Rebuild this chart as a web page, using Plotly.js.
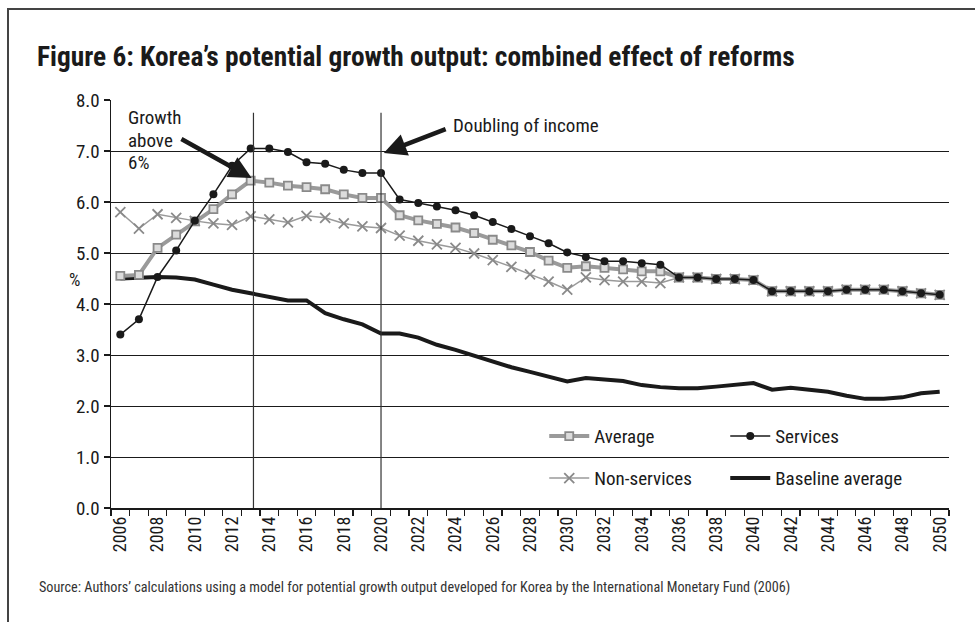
<!DOCTYPE html>
<html>
<head>
<meta charset="utf-8">
<script src="https://cdn.plot.ly/plotly-3.0.1.min.js"></script>
<style>
  html, body { margin: 0; padding: 0; background: #fff; overflow: hidden; }
  #frame { position: absolute; left: 7px; top: 8px; width: 1100px; height: 800px; border: 2px solid #444; box-sizing: border-box; }
  #chart { position: absolute; left: 0; top: 0; width: 975px; height: 622px; }
</style>
</head>
<body>
<div id="frame"></div>
<div id="chart"></div>
<script>
const years = [];
for (let y = 2006; y <= 2050; y++) years.push(y);

const tickYears = [2006,2008,2010,2012,2014,2016,2018,2020,2022,2024,2026,2028,2030,2032,2034,2036,2038,2040,2042,2044,2046,2048,2050];

const average = [4.55,4.57,5.10,5.36,5.62,5.86,6.15,6.42,6.38,6.32,6.29,6.25,6.15,6.08,6.08,
  5.74,5.64,5.57,5.50,5.39,5.26,5.15,5.02,4.85,4.71,4.74,4.71,4.68,4.64,4.64,
  4.52,4.52,4.49,4.49,4.47,4.25,4.25,4.25,4.25,4.28,4.28,4.28,4.25,4.21,4.18];

const services = [3.40,3.70,4.53,5.05,5.63,6.15,6.71,7.05,7.05,6.98,6.78,6.75,6.63,6.57,6.57,
  6.05,5.98,5.91,5.84,5.74,5.61,5.47,5.33,5.19,5.01,4.92,4.84,4.84,4.80,4.77,
  4.52,4.52,4.49,4.49,4.47,4.25,4.25,4.25,4.25,4.28,4.28,4.28,4.25,4.21,4.18];

const nonServices = [5.80,5.48,5.76,5.69,5.63,5.58,5.55,5.72,5.66,5.60,5.73,5.69,5.58,5.52,5.49,
  5.34,5.24,5.17,5.10,4.99,4.86,4.73,4.58,4.44,4.28,4.52,4.47,4.44,4.44,4.41,
  4.52,4.52,4.49,4.49,4.47,4.25,4.25,4.25,4.25,4.28,4.28,4.28,4.25,4.21,4.18];

const baseline = [4.50,4.52,4.53,4.52,4.48,4.38,4.28,4.21,4.14,4.07,4.07,3.82,3.70,3.60,3.42,
  3.42,3.34,3.20,3.10,2.98,2.87,2.76,2.67,2.57,2.48,2.55,2.52,2.49,2.41,2.37,
  2.35,2.35,2.38,2.42,2.45,2.32,2.36,2.32,2.28,2.20,2.14,2.14,2.17,2.25,2.28];

const seriesNames = ['Average','Services','Non-services','Baseline average'];
const markerLines = [2013.15, 2020];
const growthLines = ['Growth', 'above', '6%'];

const FONT = 'Roboto Condensed, Liberation Sans Narrow, DejaVu Sans Condensed, sans-serif';
const TXT = '#1a1a1a';

const traces = [
  {x: years, y: baseline, name: seriesNames[3], mode: 'lines', legend: 'legend2',
   line: {color: '#1a1a1a', width: 4}},
  {x: years, y: nonServices, name: seriesNames[2], mode: 'lines+markers', legend: 'legend2',
   line: {color: '#9a9a9a', width: 1.5},
   marker: {symbol: 'x-thin-open', size: 10, color: '#8a8a8a', line: {color: '#8a8a8a', width: 1.8}}},
  {x: years, y: average, name: seriesNames[0], mode: 'lines+markers', legend: 'legend',
   line: {color: '#9a9a9a', width: 4},
   marker: {symbol: 'square', size: 8, color: '#dcdcdc', line: {color: '#8a8a8a', width: 1.8}}},
  {x: years, y: services, name: seriesNames[1], mode: 'lines+markers', legend: 'legend',
   line: {color: '#1a1a1a', width: 1.5},
   marker: {symbol: 'circle', size: 8, color: '#1a1a1a'}}
];

const shapes = markerLines.map(v => ({
  type: 'line', xref: 'x', yref: 'y', x0: v, x1: v, y0: 0, y1: 7.75,
  line: {color: '#333', width: 1.2}
}));

const growthY = [0.956, 0.901, 0.847];
const annotations = growthLines.map((t, i) => ({
  text: t, xref: 'paper', yref: 'paper', x: 0.018, y: growthY[i],
  xanchor: 'left', yanchor: 'middle', align: 'left', showarrow: false,
  font: {family: FONT, size: 19, color: TXT}
})).concat([
  {text: '', xref: 'x', yref: 'y', x: 2013.05, y: 6.47, axref: 'x', ayref: 'y', ax: 2009.2, ay: 7.25,
   showarrow: true, arrowhead: 2, arrowsize: 1, arrowwidth: 4.5, arrowcolor: '#1a1a1a', standoff: 0},
  {text: 'Doubling of income', xref: 'x', yref: 'y', x: 2023.75, y: 7.5,
   xanchor: 'left', yanchor: 'middle', showarrow: false,
   font: {family: FONT, size: 19, color: TXT}},
  {text: '', xref: 'x', yref: 'y', x: 2020.15, y: 6.96, axref: 'x', ayref: 'y', ax: 2023.55, ay: 7.44,
   showarrow: true, arrowhead: 2, arrowsize: 1, arrowwidth: 4.5, arrowcolor: '#1a1a1a', standoff: 0},
  {text: '%', xref: 'paper', yref: 'paper', x: -0.043, y: 0.559, xanchor: 'center', yanchor: 'middle',
   showarrow: false, font: {family: FONT, size: 18, color: TXT}},
  {text: 'Source: Authors\u2019 calculations using a model for potential growth output developed for Korea by the International Monetary Fund (2006)',
   xref: 'paper', yref: 'paper', x: -0.088, y: -0.194, xanchor: 'left', yanchor: 'middle',
   showarrow: false, font: {family: FONT, size: 14.2, color: '#333'}}
]);

const legendCommon = {
  orientation: 'h', xanchor: 'left', yanchor: 'middle', bgcolor: 'rgba(0,0,0,0)',
  font: {family: FONT, size: 19, color: TXT}, entrywidth: 126, entrywidthmode: 'pixels',
  itemwidth: 40
};

const layout = {
  width: 975, height: 622,
  margin: {l: 111, r: 26, t: 100, b: 114, pad: 0},
  paper_bgcolor: 'rgba(0,0,0,0)', plot_bgcolor: '#fff',
  font: {family: FONT, color: TXT},
  title: {text: '<b>Figure 6: Korea\u2019s potential growth output: combined effect of reforms</b>',
    xref: 'container', yref: 'container', x: 0.038, xanchor: 'left', y: 0.91, yanchor: 'middle',
    font: {family: FONT, size: 27.4, color: TXT}},
  xaxis: {
    range: [2005.5, 2050.5], tickvals: tickYears, ticktext: tickYears.map(String),
    tickangle: -90, ticks: '', showgrid: false, zeroline: false,
    showline: true, linecolor: '#1a1a1a', linewidth: 1.5,
    tickfont: {family: FONT, size: 18, color: TXT},
    minor: {tick0: 2005.5, dtick: 1, ticks: 'outside', ticklen: 6, tickcolor: '#1a1a1a', tickwidth: 1.2, showgrid: false}
  },
  yaxis: {
    range: [0, 8], dtick: 1, tick0: 0, tickformat: '.1f',
    ticks: 'outside', ticklen: 6, tickcolor: '#1a1a1a', tickwidth: 1.2,
    showgrid: true, gridcolor: '#1a1a1a', gridwidth: 1, zeroline: false,
    showline: true, linecolor: '#1a1a1a', linewidth: 1.5,
    tickfont: {family: FONT, size: 19, color: TXT}
  },
  showlegend: true,
  legend: Object.assign({}, legendCommon, {x: 0.517, y: 0.176, traceorder: 'normal'}),
  legend2: Object.assign({}, legendCommon, {x: 0.517, y: 0.073, traceorder: 'reversed'}),
  shapes: shapes,
  annotations: annotations
};

Plotly.newPlot('chart', traces, layout, {displayModeBar: false, staticPlot: true});
</script>
</body>
</html>
